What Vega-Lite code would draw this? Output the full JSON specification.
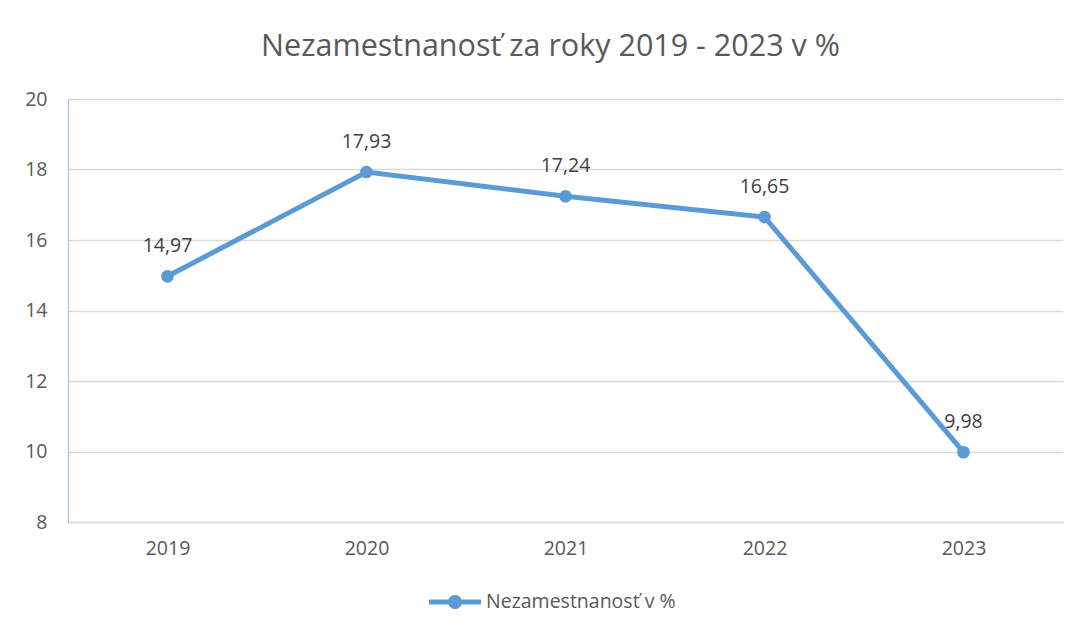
{
  "$schema": "https://vega.github.io/schema/vega-lite/v6.json",
  "width": 995,
  "height": 423,
  "autosize": {"type": "none"},
  "padding": {"left": 68, "top": 99, "right": 15, "bottom": 112},
  "background": "white",
  "config": {
    "font": "Open Sans",
    "view": {"stroke": null},
    "locale": {"number": {"decimal": ",", "thousands": " ", "grouping": [3], "currency": ["", " €"]}}
  },
  "title": {
    "text": "Nezamestnanosť za roky 2019 - 2023 v %",
    "font": "Open Sans",
    "fontSize": 30.5,
    "fontWeight": "normal",
    "color": "#595959",
    "anchor": "middle",
    "dx": -15,
    "offset": 27
  },
  "data": {
    "values": [
      {"rok": "2019", "hodnota": 14.97, "seria": "Nezamestnanosť v %"},
      {"rok": "2020", "hodnota": 17.93, "seria": "Nezamestnanosť v %"},
      {"rok": "2021", "hodnota": 17.24, "seria": "Nezamestnanosť v %"},
      {"rok": "2022", "hodnota": 16.65, "seria": "Nezamestnanosť v %"},
      {"rok": "2023", "hodnota": 9.98, "seria": "Nezamestnanosť v %"}
    ]
  },
  "encoding": {
    "x": {
      "field": "rok",
      "type": "ordinal",
      "title": null,
      "axis": {
        "labelAngle": 0,
        "labelFontSize": 19.5,
        "labelColor": "#595959",
        "labelPadding": 17,
        "ticks": false,
        "domainColor": "#D9D9D9",
        "domainWidth": 1.5,
        "grid": false
      }
    },
    "y": {
      "field": "hodnota",
      "type": "quantitative",
      "title": null,
      "scale": {"domain": [8, 20], "nice": false, "zero": false},
      "axis": {
        "values": [8, 10, 12, 14, 16, 18, 20],
        "labelFontSize": 19.5,
        "labelColor": "#595959",
        "labelPadding": 21,
        "ticks": false,
        "domainColor": "#9DC3E6",
        "domainWidth": 1.2,
        "gridColor": "#D9D9D9",
        "gridWidth": 1.5
      }
    }
  },
  "layer": [
    {
      "mark": {"type": "line", "color": "#5B9BD5", "strokeWidth": 5}
    },
    {
      "mark": {"type": "point", "filled": true, "opacity": 1, "size": 160, "shape": "circle"},
      "encoding": {
        "color": {
          "field": "seria",
          "type": "nominal",
          "scale": {"range": ["#5B9BD5"]},
          "legend": {
            "title": null,
            "orient": "none",
            "legendX": 360,
            "legendY": 476,
            "symbolType": "M -1 -0.1 L 1 -0.1 L 1 0.1 L -1 0.1 Z M 0.27 0 A 0.27 0.27 0 1 1 -0.27 0 A 0.27 0.27 0 1 1 0.27 0 Z",
            "symbolSize": 2704,
            "symbolOpacity": 1,
            "labelFontSize": 19.5,
            "labelColor": "#595959",
            "labelOffset": 4,
            "labelLimit": 500
          }
        }
      }
    },
    {
      "mark": {"type": "text", "dy": -30, "fontSize": 19.5, "color": "#404040"},
      "encoding": {
        "text": {"field": "hodnota", "type": "quantitative", "format": ".2f"}
      }
    }
  ]
}
